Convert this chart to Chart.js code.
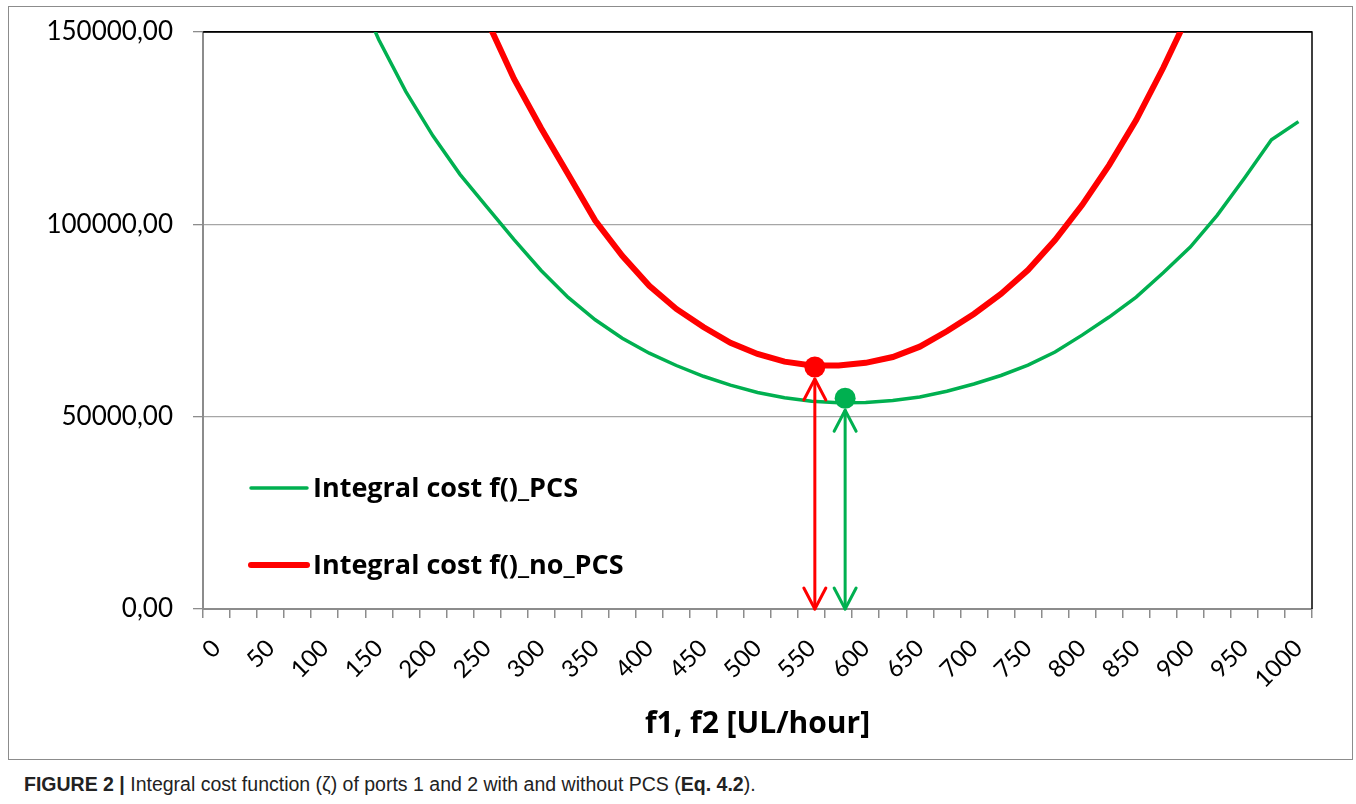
<!DOCTYPE html>
<html>
<head>
<meta charset="utf-8">
<script src="https://cdn.jsdelivr.net/npm/chart.js@4.4.1/dist/chart.umd.min.js"></script>
<style>
  body { margin: 0; background: #fff; }
  #wrap { position: relative; width: 1356px; height: 804px; }
  #box { position: absolute; left: 0; top: 0; width: 1356px; height: 760px; }
  #frame { position: absolute; left: 8px; top: 6px; width: 1345px; height: 754px; border: 1px solid #8c8c8c; box-sizing: border-box; pointer-events: none; }
  #caption { position: absolute; left: 24px; top: 773px; font: 19.5px "Liberation Sans", Arial, sans-serif; color: #222; }
</style>
</head>
<body>
<div id="wrap">
  <div id="box"><canvas id="costChart"></canvas></div>
  <div id="frame"></div>
  <div id="caption"><b>FIGURE 2 |</b> Integral cost function (ζ) of ports 1 and 2 with and without PCS (<b>Eq. 4.2</b>).</div>
</div>
<script>
// f1, f2 [UL/hour]
const categories = ["0", "25", "50", "75", "100", "125", "150", "175", "200", "225",
    "250", "275", "300", "325", "350", "375", "400", "425", "450", "475",
    "500", "525", "550", "575", "600", "625", "650", "675", "700", "725",
    "750", "775", "800", "825", "850", "875", "900", "925", "950", "975", "1000"];

const costPCS = [340000, 278000, 236000, 206000, 183000, 164000, 148000, 134500, 123000, 113000,
    104500, 96000, 88000, 81000, 75200, 70400, 66500, 63300, 60500, 58200,
    56300, 54900, 54000, 53600, 53700, 54200, 55100, 56600, 58500, 60700,
    63400, 66800, 71200, 75900, 81100, 87400, 94100, 102400, 112000, 122000, 126700];

const costNoPCS = [520000, 455000, 400000, 355000, 318000, 285000, 250000, 220000, 194000, 172000,
    153000, 137800, 125000, 113000, 101000, 91800, 84000, 78000, 73300, 69200,
    66300, 64300, 63300, 63300, 64000, 65500, 68200, 72200, 76700, 81900,
    88100, 95900, 105000, 115400, 127100, 140700, 155500, 172000, 190000, 210000, 232000];

const yTicks = [0, 50000, 100000, 150000];

// minimum marks with arrows down to the axis
const minF = [553, 581];
const minCost = [62900, 54800];
const minColors = ["#ff0000", "#00b050"];

const seriesNames = ["Integral cost f()_PCS", "Integral cost f()_no_PCS"];

Chart.defaults.font.family = "Lato, 'Open Sans', sans-serif";
Chart.defaults.color = "#000";

const frameLines = {
    id: "frameLines",
    beforeDatasetsDraw(chart) {
        const a = chart.chartArea;
        const ctx = chart.ctx;
        ctx.save();
        ctx.strokeStyle = "#000";
        ctx.lineWidth = 1.5;
        ctx.beginPath();
        ctx.moveTo(a.left, a.top);
        ctx.lineTo(a.right, a.top);
        ctx.lineTo(a.right, a.bottom);
        ctx.stroke();
        ctx.restore();
    }
};

function drawHead(ctx, x, tipY, dir) {
    ctx.beginPath();
    ctx.moveTo(x - 11, tipY + dir * 21);
    ctx.lineTo(x, tipY);
    ctx.lineTo(x + 11, tipY + dir * 21);
    ctx.stroke();
}

const minMarks = {
    id: "minMarks",
    afterDatasetsDraw(chart) {
        const ctx = chart.ctx;
        const xs = chart.scales.x;
        const ys = chart.scales.y;
        ctx.save();
        minF.forEach((f, i) => {
            const x = xs.getPixelForValue(f / 25);
            const y = ys.getPixelForValue(minCost[i]);
            const bottom = chart.chartArea.bottom;
            ctx.strokeStyle = minColors[i];
            ctx.fillStyle = minColors[i];
            ctx.lineWidth = 3;
            ctx.lineCap = "round";
            ctx.lineJoin = "round";
            ctx.beginPath();
            ctx.moveTo(x, y + 12);
            ctx.lineTo(x, bottom);
            ctx.stroke();
            drawHead(ctx, x, y + 12, 1);
            drawHead(ctx, x, bottom, -1);
            ctx.beginPath();
            ctx.arc(x, y, 10.5, 0, Math.PI * 2);
            ctx.fill();
        });
        ctx.restore();
    }
};

const innerLegend = {
    id: "innerLegend",
    afterDraw(chart) {
        const ctx = chart.ctx;
        const rows = [488, 565];
        ctx.save();
        ctx.font = "bold 27px 'Open Sans', Lato, sans-serif";
        ctx.textBaseline = "middle";
        ctx.lineCap = "round";
        chart.data.datasets.forEach((ds, i) => {
            ctx.strokeStyle = ds.borderColor;
            ctx.lineWidth = ds.borderWidth;
            ctx.beginPath();
            ctx.moveTo(251, rows[i]);
            ctx.lineTo(307, rows[i]);
            ctx.stroke();
            ctx.fillStyle = "#000";
            ctx.fillText(ds.label, 313, rows[i] + 1);
        });
        ctx.restore();
    }
};

new Chart(document.getElementById("costChart"), {
    type: "line",
    data: {
        labels: categories,
        datasets: [
            {
                label: seriesNames[0],
                data: costPCS,
                borderColor: "#00b050",
                backgroundColor: "#00b050",
                borderWidth: 3.5,
                pointRadius: 0,
                tension: 0,
                clip: 0
            },
            {
                label: seriesNames[1],
                data: costNoPCS,
                borderColor: "#ff0000",
                backgroundColor: "#ff0000",
                borderWidth: 6,
                pointRadius: 0,
                tension: 0,
                clip: 0
            }
        ]
    },
    options: {
        responsive: true,
        maintainAspectRatio: false,
        animation: false,
        layout: { padding: { top: 32, right: 44, left: 0, bottom: 0 } },
        plugins: {
            legend: { display: false },
            tooltip: { enabled: false }
        },
        scales: {
            x: {
                offset: true,
                grid: {
                    offset: true,
                    drawOnChartArea: false,
                    drawTicks: true,
                    tickLength: 9,
                    color: "#8c8c8c",
                    lineWidth: 1.5
                },
                border: { color: "#8c8c8c", width: 2 },
                ticks: {
                    autoSkip: false,
                    maxRotation: 45,
                    minRotation: 45,
                    padding: 16,
                    font: { size: 24 },
                    callback: (v, i) => (i % 2 === 0 ? categories[i] : "")
                },
                title: {
                    display: true,
                    text: "f1, f2 [UL/hour]",
                    font: { family: "'Open Sans', Lato, sans-serif", size: 30, weight: "bold" },
                    padding: { top: 4, bottom: 18 }
                },
                afterFit: (scale) => { scale.height = 151; }
            },
            y: {
                min: 0,
                max: 150000,
                afterBuildTicks: (scale) => { scale.ticks = yTicks.map(v => ({ value: v })); },
                grid: {
                    color: (c) => (c.tick && c.tick.value === 150000 ? "#000" : "#a6a6a6"),
                    tickColor: "#8c8c8c",
                    tickLength: 10,
                    lineWidth: 1.3
                },
                border: { color: "#8c8c8c", width: 2 },
                ticks: {
                    padding: 20,
                    font: { size: 26 },
                    callback: (v) => v.toFixed(2).replace(".", ",")
                },
                afterFit: (scale) => {
                    scale.width = 203;
                    scale.paddingTop = 0;
                    scale.paddingBottom = 0;
                }
            }
        }
    },
    plugins: [frameLines, minMarks, innerLegend]
});
</script>
</body>
</html>
